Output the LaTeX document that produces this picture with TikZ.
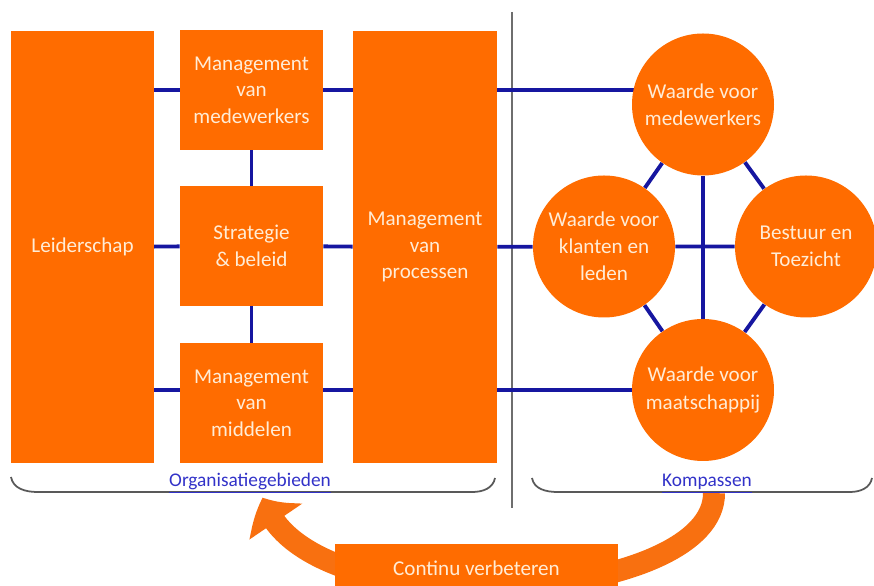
\documentclass[tikz,border=0pt]{standalone}
\usepackage{fontspec}
\setmainfont{Carlito}
\usetikzlibrary{arrows.meta,bending,backgrounds}
\definecolor{oranjeVlak}{RGB}{255,108,0}
\definecolor{oranjePijl}{RGB}{248,112,16}
\definecolor{lijnBlauw}{RGB}{22,22,160}
\definecolor{labelBlauw}{RGB}{50,50,200}
\definecolor{roomTekst}{RGB}{255,236,214}
\definecolor{scheidGrijs}{RGB}{110,110,110}

\tikzset{
  vlak/.style={fill=oranjeVlak,text=roomTekst,align=center,inner sep=0pt,font=\fontsize{12}{15}\selectfont},
  blok/.style={vlak,rectangle,minimum width=2.86cm,minimum height=2.4cm},
  zuil/.style={vlak,rectangle,minimum width=2.84cm,minimum height=8.64cm},
  kompas/.style={vlak,circle,minimum size=2.84cm,font=\fontsize{12}{15.5}\selectfont},
  verbind/.style={draw=lijnBlauw,line width=2.2pt},
  haak/.style={draw=black!65,line width=1pt},
  haaklabel/.style={text=labelBlauw,font=\fontsize{11}{13}\selectfont,anchor=base}
}

\begin{document}
\begin{tikzpicture}
\useasboundingbox (0,0) rectangle (17.48,11.72);
% linker helft: organisatiegebieden
\node[zuil] (leider) at (1.65,6.78) {Leiderschap};
\node[blok] (mwbox) at (5.03,9.92) {Management\\ van\\ medewerkers};
\node[blok] (strat) at (5.03,6.80) {Strategie\\ \& beleid};
\node[blok] (middel) at (5.03,3.66) {Management\\ van\\ middelen};
\node[zuil,minimum width=2.88cm] (proces) at (8.50,6.78) {Management\\ van\\ processen};
% rechter helft: kompassen
\node[kompas] (wmw) at (14.06,9.63) {Waarde voor\\ medewerkers};
\node[kompas] (wkl) at (12.08,6.79) {Waarde voor\\ klanten en\\ leden};
\node[kompas] (wbt) at (16.12,6.79) {Bestuur en\\ Toezicht};
\node[kompas] (wmt) at (14.06,3.92) {Waarde voor\\ maatschappij};
% scheidingslijn
\coordinate (scheidtop) at (10.24,11.48);
\coordinate (scheidbot) at (10.24,1.56);
% haken onder beide helften
\draw[haak] (0.22,2.18) to[out=-80,in=180] (0.75,1.88) -- (9.45,1.88) to[out=0,in=-100] (9.9,2.16);
\draw[haak] (10.64,2.16) to[out=-80,in=180] (11.15,1.88) -- (17.0,1.88) to[out=0,in=-100] (17.44,2.16);
\node[haaklabel] (orglabel) at (5.0,1.99) {\underline{Organisatiegebieden}};
\node[haaklabel] (komplabel) at (14.14,1.99) {\underline{Kompassen}};
\node[vlak,minimum width=5.66cm,minimum height=0.96cm] (verbeter) at (9.53,0.36) {Continu verbeteren};
\coordinate (pijlstart) at (14.28,1.86);
\coordinate (pijlpunt) at ([xshift=0.26cm,yshift=-0.22cm]orglabel.base);
\begin{scope}[on background layer]
  \draw[draw=scheidGrijs,line width=1pt] (scheidtop) -- (scheidbot);
  % drie rijen
  \draw[verbind] (leider.center |- mwbox) -- (mwbox) -- (proces.center |- mwbox) -- (wmw.center |- mwbox);
  \draw[verbind] (leider) -- (strat) -- (proces) -- (wkl) -- (wbt);
  \draw[verbind] (leider.center |- wmt) -- (middel.center |- wmt) -- (proces.center |- wmt) -- (wmt);
  % verticaal en ruit
  \draw[verbind] (mwbox) -- (middel);
  \draw[verbind] (wmw) -- (wmt);
  \draw[verbind] (wmw) -- (wkl) -- (wmt) -- (wbt) -- (wmw);
  % verbeterpijl achter het vlak
  \draw[oranjePijl,line width=0.44cm,-{Triangle[width=1.24cm,length=0.55cm,bend]}] (pijlstart) .. controls (14.3,-0.4) and (6.0,-0.9) .. (pijlpunt);
\end{scope}
\end{tikzpicture}
\end{document}
